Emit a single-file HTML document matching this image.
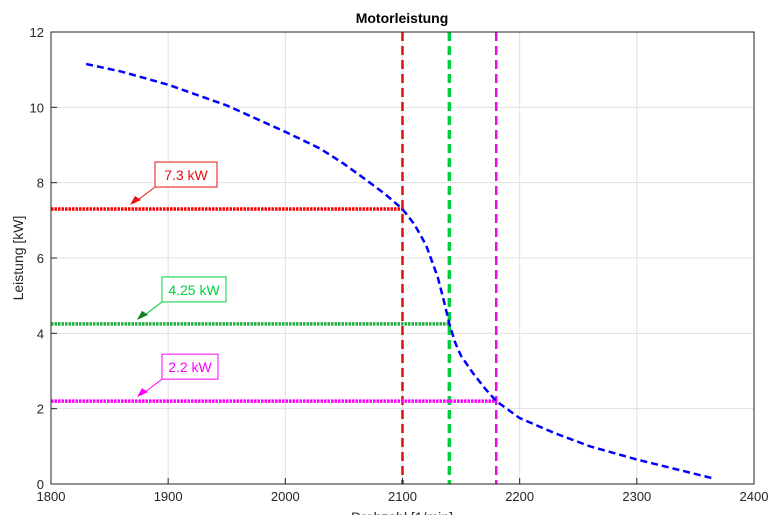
<!DOCTYPE html>
<html><head><meta charset="utf-8"><style>
body{margin:0;background:#fff;}
svg{display:block;font-family:"Liberation Sans",Arial,sans-serif;}
</style></head><body>
<svg id="chart" width="782" height="515">
<rect x="0" y="0" width="782" height="515" fill="#fff"/>
<g id="grid"></g>
<g id="series"></g>
<rect x="51" y="32" width="703" height="452" fill="none" stroke="#262626" stroke-width="1"/>
<g id="ticks"></g>
<text x="402" y="23" text-anchor="middle" font-size="14" font-weight="bold" fill="#000">Motorleistung</text>
<text transform="translate(23,258) rotate(-90)" text-anchor="middle" font-size="14" fill="#262626">Leistung [kW]</text>
<text x="402" y="522" text-anchor="middle" font-size="14" fill="#262626">Drehzahl [1/min]</text>
<g id="annots"></g>
</svg>
<script>
const xTicks=[1800,1900,2000,2100,2200,2300,2400];
const yTicks=[0,2,4,6,8,10,12];
const curveX=[1830,1860,1900,1950,2000,2030,2050,2070,2085,2100,2110,2120,2130,2135,2140,2145,2150,2160,2170,2180,2200,2230,2260,2300,2330,2365];
const curveY=[11.15,10.95,10.6,10.05,9.35,8.9,8.5,8.05,7.7,7.3,6.9,6.35,5.5,4.9,4.25,3.75,3.4,2.95,2.55,2.2,1.75,1.35,1.0,0.65,0.42,0.15];
const markSpeed=[2100,2140,2180];
const markPower=[7.3,4.25,2.2];
const markLabels=["7.3 kW","4.25 kW","2.2 kW"];
const markColors=["#e81010","#00d040","#ff00ff"];
const hColors=["#ff0000","#20b040","#ff00ff"];
const NS="http://www.w3.org/2000/svg";
const L=51,R=754,T=32,B=484;
const sx=v=>L+(v-1800)/600*(R-L);
const sy=v=>B-v/12*(B-T);
function mk(tag,attrs,parent){const e=document.createElementNS(NS,tag);for(const k in attrs)e.setAttribute(k,attrs[k]);parent.appendChild(e);return e;}
const grid=document.getElementById('grid'),ticks=document.getElementById('ticks'),series=document.getElementById('series'),ann=document.getElementById('annots');
xTicks.forEach(t=>{
 const g=mk('line',{x1:sx(t),x2:sx(t),y1:T,y2:B,stroke:'#e0e0e0','stroke-width':1},grid);
 
 
 mk('line',{x1:sx(t),x2:sx(t),y1:B,y2:B-6,stroke:'#262626'},ticks);
 const tx=mk('text',{x:sx(t),y:B+17,'text-anchor':'middle','font-size':13,fill:'#262626'},ticks);
 tx.textContent=t;
 
 
});
yTicks.forEach(t=>{
 const g=mk('line',{x1:L,x2:R,y1:sy(t),y2:sy(t),stroke:'#e0e0e0','stroke-width':1},grid);
 
 
 mk('line',{x1:L,x2:L+6,y1:sy(t),y2:sy(t),stroke:'#262626'},ticks);
 const tx=mk('text',{x:L-7,y:sy(t)+5,'text-anchor':'end','font-size':13,fill:'#262626'},ticks);
 tx.textContent=t;
 
 
});
markSpeed.forEach((s,i)=>{
 const h=mk('line',{x1:L,x2:sx(s),y1:sy(markPower[i]),y2:sy(markPower[i]),stroke:hColors[i],'stroke-width':3.5,'stroke-dasharray':'2.5 1'},series);
 
 
 const v=mk('line',{x1:sx(s),x2:sx(s),y1:T,y2:B,stroke:i==1?'#00d040':(i==0?'#dd1010':'#e010e0'),'stroke-width':i==1?3.5:2.5,'stroke-dasharray':'9 5'},series);
 
 
});
const pts=curveX.map((x,i)=>sx(x)+','+sy(curveY[i])).join(' ');
const c=mk('polyline',{points:pts,fill:'none',stroke:'#0000ff','stroke-width':2.5,'stroke-dasharray':'7 4'},series);


const boxX=[155,162,162],boxW=[62,64,56],tipX=[130,137,137];
markPower.forEach((p,i)=>{
 const yb=sy(p)-47;
 const a=mk('line',{x1:boxX[i],y1:yb+25,x2:tipX[i]+4,y2:sy(p)-6,stroke:markColors[i],'stroke-width':1},ann);
 
 
 const hx=tipX[i],hy=sy(p)-4;
 mk('polygon',{points:`${hx},${hy} ${hx+5},${hy-9} ${hx+11},${hy-5}`,fill:i==1?'#108020':markColors[i]},ann);
 const r=mk('rect',{x:boxX[i],y:yb,width:boxW[i],height:25,fill:'#fff',stroke:markColors[i],'stroke-width':1},ann);
 
 
 const t=mk('text',{x:boxX[i]+boxW[i]/2,y:yb+18,'text-anchor':'middle','font-size':14,fill:markColors[i]},ann);
 t.textContent=markLabels[i];
 
 
});
</script>
</body></html>
